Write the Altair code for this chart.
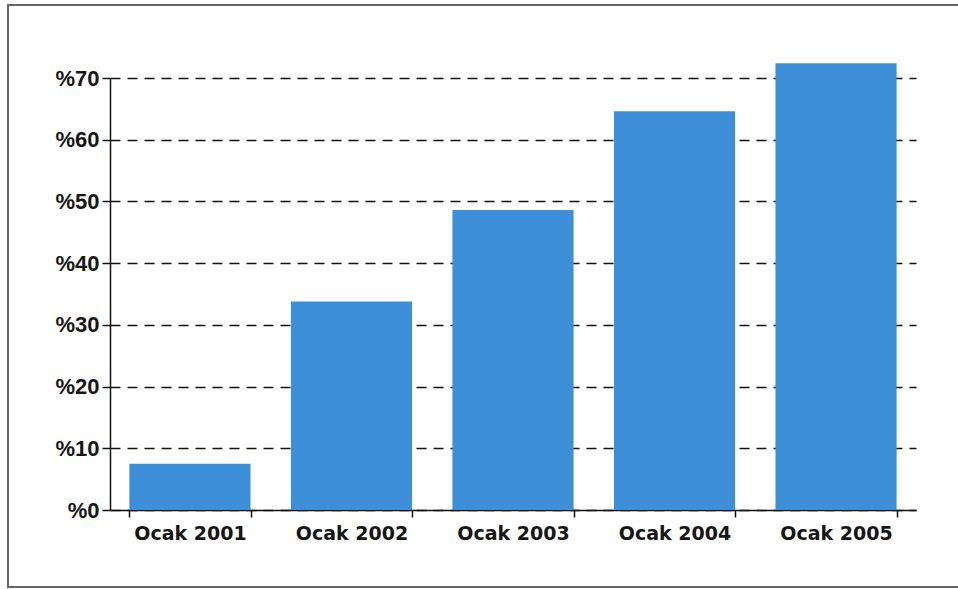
import altair as alt
import pandas as pd

# Share of the series by January of each year (percent)
months = ["Ocak 2001", "Ocak 2002", "Ocak 2003", "Ocak 2004", "Ocak 2005"]
shares = [7.5, 33.8, 48.6, 64.6, 72.4]
y_ticks = [0, 10, 20, 30, 40, 50, 60, 70]

df = pd.DataFrame({"ay": months, "oran": shares})

PLOT_W = 806
PLOT_H = 432

base = alt.Chart(df)

bars = base.mark_bar(color="#3d8fd8", clip=False).encode(
    x=alt.X(
        "ay:N",
        sort=months,
        scale=alt.Scale(paddingInner=0.25, paddingOuter=0.12),
        axis=alt.Axis(
            title=None,
            labelAngle=0,
            labelFont="DejaVu Sans",
            labelFontSize=19,
            labelFontWeight="bold",
            labelColor="#161616",
            labelPadding=7,
            domainColor="#111111",
            domainWidth=1.5,
            tickColor="#111111",
            tickWidth=1.5,
            tickSize=7,
            tickBand="extent",
            grid=False,
        ),
    ),
    y=alt.Y(
        "oran:Q",
        scale=alt.Scale(domain=[0, 70], nice=False),
        axis=alt.Axis(
            title=None,
            values=y_ticks,
            labelExpr="'%' + datum.value",
            labelFont="Liberation Sans",
            labelFontSize=22,
            labelFontWeight="bold",
            labelColor="#161616",
            labelPadding=3,
            domainColor="#111111",
            domainWidth=1.5,
            tickColor="#111111",
            tickWidth=1.5,
            tickSize=8,
            grid=True,
            gridColor="#111111",
            gridWidth=1.5,
            gridDash=[10, 7],
        ),
    ),
)

# Outer frame: top, left and bottom edges of the figure border
frame = base.mark_rect(
    fill=None, stroke="#666666", strokeWidth=2
).encode(
    x=alt.value(-102), x2=alt.value(1000),
    y=alt.value(-73), y2=alt.value(509),
)

chart = (
    alt.layer(bars, frame)
    .properties(
        width=PLOT_W,
        height=PLOT_H,
        padding={"left": 110, "top": 78, "right": 42, "bottom": 79},
        autosize=alt.AutoSizeParams(type="none"),
        background="white",
    )
    .configure_view(stroke=None)
)

chart.save("out.html", embed_options={"renderer": "svg", "actions": False})
